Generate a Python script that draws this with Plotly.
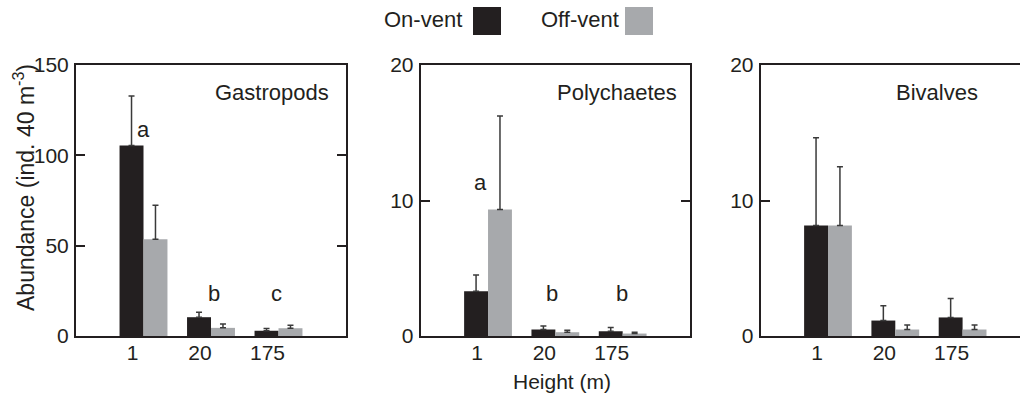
import plotly.graph_objects as go

# ---------------- data ----------------
heights = ["1", "20", "175"]

gastro_on = [105.5, 10.4, 2.9]
gastro_on_err = [27.3, 2.7, 1.3]
gastro_off = [53.5, 4.5, 4.3]
gastro_off_err = [18.9, 2.2, 1.6]

poly_on = [3.3, 0.48, 0.35]
poly_on_err = [1.2, 0.25, 0.28]
poly_off = [9.34, 0.28, 0.18]
poly_off_err = [6.9, 0.15, 0.10]

biv_on = [8.15, 1.14, 1.37]
biv_on_err = [6.48, 1.09, 1.39]
biv_off = [8.15, 0.48, 0.48]
biv_off_err = [4.35, 0.33, 0.33]

panel_names = ["Gastropods", "Polychaetes", "Bivalves"]
y_max = [150, 20, 20]
y_ticks = [[0, 50, 100, 150], [0, 10, 20], [0, 10, 20]]

sig_letters = [["a", "b", "c"], ["a", "b", "b"], []]
sig_x = [[0.0, 1.04, 1.97], [-0.11, 0.95, 1.99], []]
sig_y = [[114.4, 23.4, 23.4], [11.33, 3.16, 3.16], []]

# ---------------- style ----------------
W, H = 1020, 393
BLACK = "#231f20"
GRAY = "#a7a9ac"
ERR = "#3a3a3a"
FONT = "Liberation Sans, Arial, Helvetica, sans-serif"

def px_x(p):
    return p / W

def px_y(p):
    return (H - p) / H

x_domains = [[px_x(76), px_x(346)], [px_x(420.7), px_x(690)], [px_x(760.7), 1.0]]
x_ranges = [[-1, 3], [-1, 3], [-1, 2.853]]
y_domain = [px_y(336), px_y(65)]

series = [
    (gastro_on, gastro_on_err, gastro_off, gastro_off_err),
    (poly_on, poly_on_err, poly_off, poly_off_err),
    (biv_on, biv_on_err, biv_off, biv_off_err),
]

fig = go.Figure()
for i, (on, on_e, off, off_e) in enumerate(series):
    sfx = "" if i == 0 else str(i + 1)
    for vals, errs, col, name in ((on, on_e, BLACK, "On-vent"), (off, off_e, GRAY, "Off-vent")):
        fig.add_trace(go.Bar(
            x=heights, y=vals, name=name, showlegend=False,
            marker=dict(color=col, line=dict(width=0)),
            error_y=dict(type="data", array=errs, arrayminus=[0] * len(errs), symmetric=False,
                         color=ERR, thickness=1.5, width=3),
            xaxis="x" + sfx, yaxis="y" + sfx,
            offsetgroup=name,
        ))

layout = dict(
    width=W, height=H,
    margin=dict(l=0, r=0, t=0, b=0, autoexpand=False),
    paper_bgcolor="white", plot_bgcolor="white",
    barmode="group", bargap=0.29, bargroupgap=0,
    font=dict(family=FONT, size=21, color=BLACK),
    showlegend=False,
)

for i in range(3):
    sfx = "" if i == 0 else str(i + 1)
    layout["xaxis" + sfx] = dict(
        domain=x_domains[i], range=x_ranges[i], type="category",
        anchor="y" + sfx, showline=True, linewidth=2, linecolor=BLACK,
        mirror=True, ticks="", showgrid=False, zeroline=False,
        tickfont=dict(size=21), ticklabelshift=-11, ticklabelstandoff=-3,
        automargin=False, fixedrange=True,
    )
    layout["yaxis" + sfx] = dict(
        domain=y_domain, range=[0, y_max[i]], anchor="x" + sfx,
        showline=True, linewidth=2, linecolor=BLACK,
        mirror="ticks" if i < 2 else False,
        ticks="inside", ticklen=9, tickwidth=1.5, tickcolor=BLACK,
        tickvals=y_ticks[i], showgrid=False, zeroline=False,
        tickfont=dict(size=21), ticklabelstandoff=1,
        automargin=False, fixedrange=True,
    )

fig.update_layout(**layout)

annotations = []
# panel names
name_pos = [(272, 92), (616.5, 92), (937, 92)]
for (cx, cy), nm in zip(name_pos, panel_names):
    annotations.append(dict(text=nm, x=px_x(cx), y=px_y(cy), xref="paper", yref="paper",
                            xanchor="center", yanchor="middle", showarrow=False,
                            font=dict(size=22, color=BLACK)))
# significance letters
for i in range(3):
    sfx = "" if i == 0 else str(i + 1)
    for lt, lx, ly in zip(sig_letters[i], sig_x[i], sig_y[i]):
        annotations.append(dict(text=lt, x=lx, y=ly, xref="x" + sfx, yref="y" + sfx,
                                xanchor="center", yanchor="middle", showarrow=False,
                                font=dict(size=22, color=BLACK)))
# axis titles
annotations.append(dict(text="Abundance (ind. 40 m<sup>-3</sup>)", x=px_x(24), y=px_y(188),
                        xref="paper", yref="paper", textangle=-90, showarrow=False,
                        xanchor="center", yanchor="middle", font=dict(size=23, color=BLACK)))
annotations.append(dict(text="Height (m)", x=px_x(561.5), y=px_y(381),
                        xref="paper", yref="paper", showarrow=False,
                        xanchor="center", yanchor="middle", font=dict(size=21, color=BLACK)))
# legend text
annotations.append(dict(text="On-vent", x=px_x(464), y=px_y(19), xref="paper", yref="paper",
                        xanchor="right", yanchor="middle", showarrow=False,
                        font=dict(size=22, color=BLACK)))
annotations.append(dict(text="Off-vent", x=px_x(621), y=px_y(19), xref="paper", yref="paper",
                        xanchor="right", yanchor="middle", showarrow=False,
                        font=dict(size=22, color=BLACK)))

shapes = [
    dict(type="rect", xref="paper", yref="paper", x0=px_x(473), x1=px_x(501),
         y0=px_y(35), y1=px_y(7), fillcolor=BLACK, line=dict(width=0)),
    dict(type="rect", xref="paper", yref="paper", x0=px_x(625), x1=px_x(653),
         y0=px_y(35), y1=px_y(7), fillcolor=GRAY, line=dict(width=0)),
]

fig.update_layout(annotations=annotations, shapes=shapes)
fig.write_html("out.html")
